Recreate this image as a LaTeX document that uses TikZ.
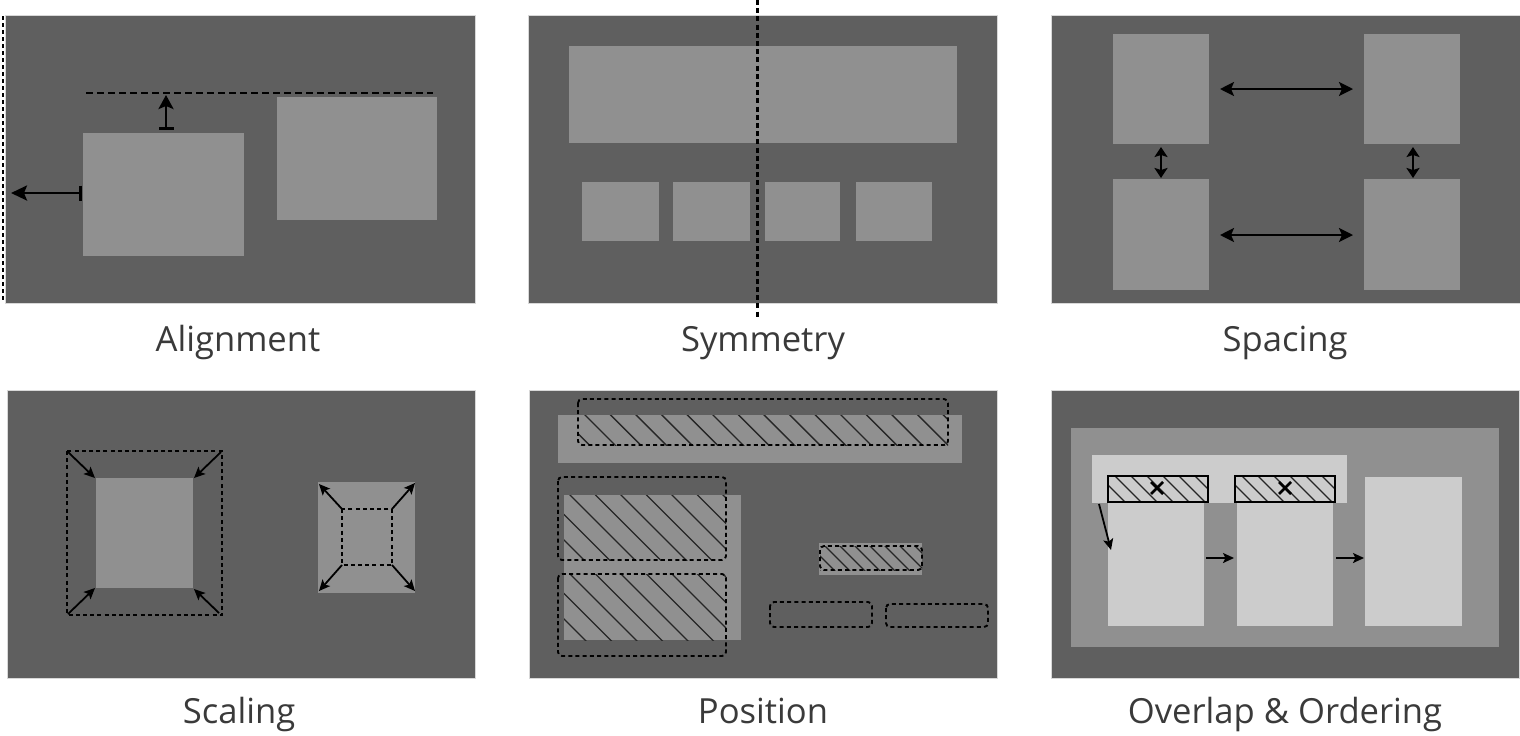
\documentclass[tikz,border=0pt]{standalone}
\usepackage{fontspec}
\setmainfont{Open Sans}
\usetikzlibrary{arrows.meta}
\definecolor{panelbg}{HTML}{5F5F5F}
\definecolor{paneledge}{HTML}{D8D8D8}
\definecolor{midgray}{HTML}{909090}
\definecolor{lightgrayb}{HTML}{CCCCCC}
\definecolor{labeltext}{HTML}{3A3A3A}
\newcommand{\hatchrect}[7]{%
  \begin{scope}
    \clip (#1,#2) rectangle (#3,#4);
    \pgfmathsetmacro{\hh}{#4-#2+6}
    \foreach \k in {0,...,#7}{%
      \pgfmathsetmacro{\xx}{#5+\k*#6-3}
      \draw[hatchline] (\xx,#2-3) -- ++(\hh,\hh);
    }
  \end{scope}}
\begin{document}
\begin{tikzpicture}[x=0.5pt,y=-0.5pt,
  panel/.style={fill=panelbg,draw=paneledge,line width=0.4pt},
  midbox/.style={fill=midgray},
  lightbox/.style={fill=lightgrayb},
  lbl/.style={font=\fontsize{17.3}{20}\selectfont,text=labeltext,anchor=base,inner sep=0pt},
  guideline/.style={draw=black,line width=1.4pt},
  arr/.style={draw=black,line width=1.3pt},
  sarr/.style={draw=black,line width=0.9pt,-{Stealth[length=5.5pt,width=5pt,inset=1.2pt]}},
  dashrect/.style={draw=black,line width=0.9pt,dash pattern=on 2pt off 1.6pt},
  dashbox/.style={draw=black,line width=0.95pt,dash pattern=on 2pt off 1.6pt,rounded corners=2pt},
  hatchline/.style={draw=black!85,line width=0.7pt},
  hboxborder/.style={draw=black,line width=1.1pt},
]
\useasboundingbox (0,0) rectangle (1520,735);

% ---------- Panel 1: Alignment ----------
\draw[panel] (5,15) rectangle (475,303);
\fill[midbox] (83,133) rectangle (244,256);
\fill[midbox] (277,97) rectangle (437,220);
\draw[guideline,dash pattern=on 3.5pt off 2pt] (86,93) -- (433,93);
\draw[guideline,dash pattern=on 2pt off 1.5pt] (3,16) -- (3,300);
\draw[arr,{Bar[width=7.5pt]}-{Stealth[length=7pt,width=7.5pt,inset=1.5pt]}] (166,130) -- (166,95);
\draw[arr,{Bar[width=7.5pt]}-{Stealth[length=8pt,width=7.5pt,inset=1.5pt]}] (82,193) -- (11,193);
\node[lbl] (l1) at (238,351) {Alignment};

% ---------- Panel 2: Symmetry ----------
\draw[panel] (528,15) rectangle (997,303);
\fill[midbox] (569,46) rectangle (957,143);
\fill[midbox] (582,182) rectangle (659,241);
\fill[midbox] (673,182) rectangle (750,241);
\fill[midbox] (765,182) rectangle (840,241);
\fill[midbox] (856,182) rectangle (932,241);
\draw[guideline,line width=1.5pt,dash pattern=on 2.5pt off 1.6pt] (757,0) -- (757,318);
\node[lbl] (l2) at (763,351) {Symmetry};

% ---------- Panel 3: Spacing ----------
\draw[panel] (1051,15) rectangle (1520,303);
\fill[midbox] (1113,34) rectangle (1209,144);
\fill[midbox] (1364,34) rectangle (1460,144);
\fill[midbox] (1113,179) rectangle (1209,290);
\fill[midbox] (1364,179) rectangle (1460,290);
\draw[arr,line width=1.2pt,{Stealth[length=7pt,width=7pt,inset=1.5pt]}-{Stealth[length=7pt,width=7pt,inset=1.5pt]}] (1220,89) -- (1353,89);
\draw[arr,line width=1.2pt,{Stealth[length=7pt,width=7pt,inset=1.5pt]}-{Stealth[length=7pt,width=7pt,inset=1.5pt]}] (1220,235) -- (1353,235);
\draw[arr,line width=1.2pt,{Stealth[length=5pt,width=6.5pt,inset=1pt]}-{Stealth[length=5pt,width=6.5pt,inset=1pt]}] (1161,147) -- (1161,178);
\draw[arr,line width=1.2pt,{Stealth[length=5pt,width=6.5pt,inset=1pt]}-{Stealth[length=5pt,width=6.5pt,inset=1pt]}] (1413,147) -- (1413,178);
\node[lbl] (l3) at (1285,351) {Spacing};

% ---------- Panel 4: Scaling ----------
\draw[panel] (7,390) rectangle (475,678);
\fill[midbox] (96,478) rectangle (193,588);
\draw[dashrect] (67,451) rectangle (222,615);
\draw[sarr] (68,452) -- (95,478);
\draw[sarr] (221,452) -- (194,478);
\draw[sarr] (68,614) -- (95,588);
\draw[sarr] (219,613) -- (194,589);
\fill[midbox] (318,482) rectangle (415,593);
\draw[dashrect] (342,509) rectangle (392,565);
\draw[sarr] (342,509) -- (319,484);
\draw[sarr] (392,509) -- (415,483);
\draw[sarr] (342,565) -- (319,591);
\draw[sarr] (392,565) -- (415,591);
\node[lbl] (l4) at (239,723) {Scaling};

% ---------- Panel 5: Position ----------
\draw[panel] (529,390) rectangle (997,678);
\fill[midbox] (558,415) rectangle (962,463);
\fill[midbox] (564,495) rectangle (741,640);
\fill[midbox] (819,543) rectangle (922,575);
\hatchrect{578}{415}{948}{445}{559.4}{25.6}{16}
\hatchrect{564}{495}{726}{560}{493.5}{25.5}{10}
\hatchrect{564}{574}{726}{640}{493.5}{25.5}{10}
\hatchrect{820}{546}{922}{570}{795}{15}{9}
\draw[dashbox] (578,399) rectangle (948,445);
\draw[dashbox] (558,477) rectangle (726,560);
\draw[dashbox] (558,574) rectangle (726,656);
\draw[dashbox] (820,546) rectangle (922,570);
\draw[dashbox] (770,602) rectangle (872,627);
\draw[dashbox] (886,604) rectangle (988,627);
\node[lbl] (l5) at (763,723) {Position};

% ---------- Panel 6: Overlap & Ordering ----------
\draw[panel] (1051,390) rectangle (1519,678);
\fill[midbox] (1071,428) rectangle (1499,647);
\fill[lightbox] (1108,503) rectangle (1204,626);
\fill[lightbox] (1237,503) rectangle (1333,626);
\fill[lightbox] (1365,477) rectangle (1462,626);
\fill[lightbox] (1092,455) rectangle (1347,503);
\fill[lightbox] (1108,476) rectangle (1208,502);
\fill[lightbox] (1235,476) rectangle (1335,502);
\hatchrect{1108}{476}{1208}{502}{1083}{16}{8}
\hatchrect{1235}{476}{1335}{502}{1210}{16}{8}
\draw[hboxborder] (1108,476) rectangle (1208,502);
\draw[hboxborder] (1235,476) rectangle (1335,502);
\draw[line width=1.3pt] (1151,482) -- (1163,494) (1151,494) -- (1163,482);
\draw[line width=1.3pt] (1279,482) -- (1291,494) (1279,494) -- (1291,482);
\draw[sarr] (1099,504) -- (1111,550);
\draw[sarr] (1206,558) -- (1234,558);
\draw[sarr] (1336,558) -- (1364,558);
\node[lbl] (l6) at (1285,723) {Overlap \& Ordering};
\end{tikzpicture}
\end{document}
